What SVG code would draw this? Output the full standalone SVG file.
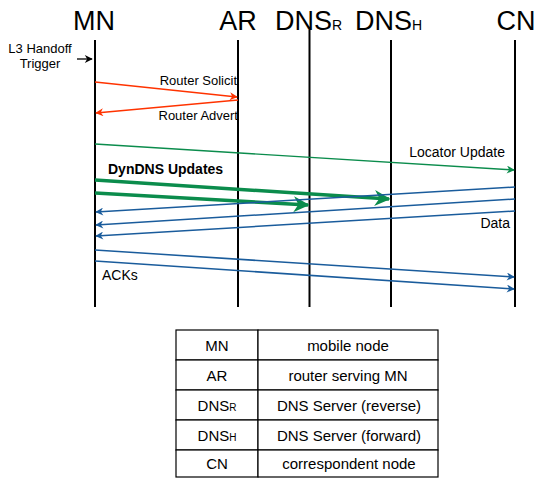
<svg xmlns="http://www.w3.org/2000/svg" width="535" height="479" viewBox="0 0 535 479">
<style>
text{font-family:"Liberation Sans",Arial,sans-serif;fill:#000}
.hd{font-size:27px}
.sub{font-size:14px}
.lb{font-size:13px}
.lb2{font-size:14px}
.tb{font-size:15px}
.life{stroke:#000;stroke-width:2}
.red{stroke:#ff3300;stroke-width:1.3;fill:none}
.grn{stroke:#0b8c4c;stroke-width:1.3;fill:none}
.grnT{stroke:#0b8c4c;stroke-width:3.5;fill:none}
.blu{stroke:#1a5c9c;stroke-width:1.5;fill:none}
.cell{fill:#fff;stroke:#000;stroke-width:1.2}
</style>
<defs>
<marker id="aR" viewBox="0 0 10 10" refX="9" refY="5" markerWidth="10" markerHeight="8" markerUnits="userSpaceOnUse" orient="auto"><path d="M0,0 L10,5 L0,10 L3,5 z" fill="#ff3300"/></marker>
<marker id="aG" viewBox="0 0 10 10" refX="9" refY="5" markerWidth="10" markerHeight="8" markerUnits="userSpaceOnUse" orient="auto"><path d="M0,0 L10,5 L0,10 L3,5 z" fill="#0b8c4c"/></marker>
<marker id="aGT" viewBox="0 0 10 10" refX="9" refY="5" markerWidth="22" markerHeight="16" markerUnits="userSpaceOnUse" orient="auto"><path d="M0,0 L10,5 L0,10 L3,5 z" fill="#0b8c4c"/></marker>
<marker id="aB" viewBox="0 0 10 10" refX="9" refY="5" markerWidth="10" markerHeight="8" markerUnits="userSpaceOnUse" orient="auto"><path d="M0,0 L10,5 L0,10 L3,5 z" fill="#1a5c9c"/></marker>
<marker id="aK" viewBox="0 0 10 10" refX="9" refY="5" markerWidth="9" markerHeight="8" markerUnits="userSpaceOnUse" orient="auto"><path d="M0,0 L10,5 L0,10 L3,5 z" fill="#000"/></marker>
</defs>

<g id="MN"><text class="hd" x="94" y="30" text-anchor="middle">MN</text><line class="life" x1="95" y1="40" x2="95" y2="307"/></g>
<g id="AR"><text class="hd" x="238" y="30" text-anchor="middle">AR</text><line class="life" x1="238" y1="40" x2="238" y2="307"/></g>
<g id="DNSR"><text class="hd" x="275" y="30">DNS<tspan class="sub">R</tspan></text><line class="life" x1="309.5" y1="30" x2="309.5" y2="307"/></g>
<g id="DNSH"><text class="hd" x="355" y="30">DNS<tspan class="sub">H</tspan></text><line class="life" x1="391" y1="40" x2="391" y2="307"/></g>
<g id="CN"><text class="hd" x="516" y="30" text-anchor="middle">CN</text><line class="life" x1="515" y1="40" x2="515" y2="307"/></g>

<g id="connectors">
<line x1="77" y1="59" x2="92" y2="59" stroke="#000" stroke-width="1.3" marker-end="url(#aK)"/>
<line class="red" x1="95" y1="82" x2="237" y2="97" marker-end="url(#aR)"/>
<line class="red" x1="238" y1="100" x2="96" y2="113" marker-end="url(#aR)"/>
<line class="grn" x1="95" y1="144" x2="514" y2="170" marker-end="url(#aG)"/>
<line class="grnT" x1="95" y1="180" x2="389" y2="199" marker-end="url(#aGT)"/>
<line class="grnT" x1="95" y1="193" x2="308" y2="205" marker-end="url(#aGT)"/>
<line class="blu" x1="515" y1="187" x2="96" y2="212" marker-end="url(#aB)"/>
<line class="blu" x1="515" y1="199" x2="96" y2="225" marker-end="url(#aB)"/>
<line class="blu" x1="515" y1="211" x2="96" y2="236" marker-end="url(#aB)"/>
<line class="blu" x1="95" y1="250" x2="514" y2="277" marker-end="url(#aB)"/>
<line class="blu" x1="95" y1="261" x2="514" y2="289" marker-end="url(#aB)"/>
</g>

<g id="labels">
<text class="lb" x="40" y="53" text-anchor="middle">L3 Handoff</text>
<text class="lb" x="40" y="68" text-anchor="middle">Trigger</text>
<text class="lb" x="237" y="85" text-anchor="end">Router Solicit</text>
<text class="lb" x="238" y="120" text-anchor="end">Router Advert</text>
<text class="lb2" x="505" y="157" text-anchor="end">Locator Update</text>
<text class="lb2" x="108" y="174" font-weight="bold">DynDNS Updates</text>
<text class="lb2" x="510" y="228" text-anchor="end">Data</text>
<text class="lb2" x="102" y="280">ACKs</text>
</g>

<g id="legend">
<rect class="cell" x="176" y="330" width="82" height="30"/><rect class="cell" x="258" y="330" width="180" height="30"/>
<rect class="cell" x="176" y="360" width="82" height="30"/><rect class="cell" x="258" y="360" width="180" height="30"/>
<rect class="cell" x="176" y="390" width="82" height="30"/><rect class="cell" x="258" y="390" width="180" height="30"/>
<rect class="cell" x="176" y="420" width="82" height="30"/><rect class="cell" x="258" y="420" width="180" height="30"/>
<rect class="cell" x="176" y="450" width="82" height="27"/><rect class="cell" x="258" y="450" width="180" height="27"/>
<text class="tb" x="217" y="351" text-anchor="middle">MN</text>
<text class="tb" x="348" y="351" text-anchor="middle">mobile node</text>
<text class="tb" x="217" y="381" text-anchor="middle">AR</text>
<text class="tb" x="348" y="381" text-anchor="middle">router serving MN</text>
<text class="tb" x="217" y="411" text-anchor="middle">DNS<tspan font-size="10">R</tspan></text>
<text class="tb" x="349" y="411" text-anchor="middle">DNS Server (reverse)</text>
<text class="tb" x="217" y="441" text-anchor="middle">DNS<tspan font-size="10">H</tspan></text>
<text class="tb" x="349" y="441" text-anchor="middle">DNS Server (forward)</text>
<text class="tb" x="217" y="469" text-anchor="middle">CN</text>
<text class="tb" x="349" y="469" text-anchor="middle">correspondent node</text>
</g>
</svg>
